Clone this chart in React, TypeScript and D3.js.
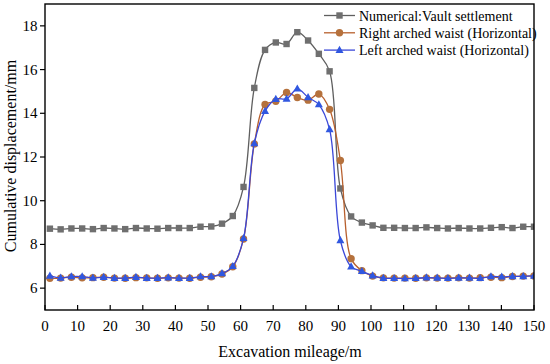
import * as d3 from 'd3';

const mileage = [
  1.5, 4.8, 8.1, 11.4, 14.7, 18.0, 21.3, 24.6, 27.9, 31.2, 34.5, 37.8, 41.1, 44.4, 47.7, 51.0,
  54.3, 57.6, 60.9, 64.2, 67.5, 70.8, 74.1, 77.4, 80.7, 84.0, 87.3, 90.6, 93.9, 97.2, 100.5,
  103.8, 107.1, 110.4, 113.7, 117.0, 120.3, 123.6, 126.9, 130.2, 133.5, 136.8, 140.1, 143.4,
  146.7, 150.0,
];

const vault = [
  8.72, 8.69, 8.73, 8.73, 8.70, 8.75, 8.73, 8.70, 8.75, 8.73, 8.72, 8.75, 8.75, 8.75, 8.81, 8.82,
  8.95, 9.30, 10.63, 15.16, 16.90, 17.24, 17.17, 17.71, 17.33, 16.72, 15.92, 10.56, 9.28, 9.00,
  8.87, 8.76, 8.76, 8.75, 8.75, 8.78, 8.75, 8.73, 8.75, 8.73, 8.73, 8.76, 8.79, 8.75, 8.81, 8.81,
];

const rightWaist = [
  6.45, 6.46, 6.50, 6.47, 6.48, 6.50, 6.46, 6.45, 6.48, 6.47, 6.45, 6.47, 6.46, 6.45, 6.50, 6.52,
  6.65, 6.98, 8.25, 12.60, 14.40, 14.55, 14.95, 14.72, 14.60, 14.88, 14.18, 11.84, 7.35, 6.80,
  6.55, 6.47, 6.46, 6.46, 6.45, 6.47, 6.46, 6.46, 6.47, 6.46, 6.48, 6.50, 6.48, 6.53, 6.55, 6.56,
];

const leftWaist = [
  6.56, 6.47, 6.53, 6.53, 6.47, 6.50, 6.46, 6.46, 6.50, 6.46, 6.46, 6.48, 6.46, 6.46, 6.53, 6.53,
  6.67, 7.00, 8.28, 12.62, 14.10, 14.65, 14.66, 15.12, 14.73, 14.40, 13.26, 8.18, 6.98, 6.77,
  6.57, 6.46, 6.45, 6.44, 6.45, 6.48, 6.47, 6.45, 6.47, 6.47, 6.45, 6.53, 6.52, 6.54, 6.54, 6.56,
];

const seriesNames = [
  'Numerical:Vault settlement',
  'Right arched waist (Horizontal)',
  'Left arched waist (Horizontal)',
];

const xTicks = [0, 10, 20, 30, 40, 50, 60, 70, 80, 90, 100, 110, 120, 130, 140, 150];
const yTicks = [6, 8, 10, 12, 14, 16, 18];

const W = 550;
const H = 364;
const M = { left: 45, right: 534, top: 4, bottom: 310 };
const FONT = '"Liberation Serif", "Times New Roman", serif';

const x = d3.scaleLinear().domain([0, 150]).range([M.left, M.right]);
const y = d3.scaleLinear().domain([5, 19]).range([M.bottom, M.top]);

type Series = { name: string; values: number[]; line: string; fill: string; shape: 'square' | 'circle' | 'triangle' };

const series: Series[] = [
  { name: seriesNames[0], values: vault, line: '#5f5f5f', fill: '#6f6f6f', shape: 'square' },
  { name: seriesNames[1], values: rightWaist, line: '#b8602e', fill: '#b5713c', shape: 'circle' },
  { name: seriesNames[2], values: leftWaist, line: '#3a47d8', fill: '#3057e0', shape: 'triangle' },
];

function Marker({ shape, cx, cy, fill }: { shape: Series['shape']; cx: number; cy: number; fill: string }) {
  if (shape === 'square') return <rect x={cx - 3.2} y={cy - 3.2} width={6.4} height={6.4} fill={fill} />;
  if (shape === 'circle') return <circle cx={cx} cy={cy} r={3.7} fill={fill} />;
  return <path d={`M${cx},${cy - 4.4}L${cx + 4},${cy + 2.8}L${cx - 4},${cy + 2.8}Z`} fill={fill} />;
}

export default function App() {
  const line = d3.line<number>()
    .x((_, i) => x(mileage[i]))
    .y(d => y(d))
    .curve(d3.curveCatmullRom.alpha(0.5));

  return (
    <svg width={W} height={H} style={{ position: 'absolute', left: 0, top: 0, background: '#fff' }} fontFamily={FONT}>
      <defs>
        <clipPath id="plot">
          <rect x={M.left} y={M.top} width={M.right - M.left} height={M.bottom - M.top} />
        </clipPath>
      </defs>

      {/* series */}
      <g clipPath="url(#plot)">
        {series.map(s => (
          <g key={s.name}>
            <path d={line(s.values) ?? ''} fill="none" stroke={s.line} strokeWidth={1.3} />
            {s.values.map((v, i) => (
              <Marker key={i} shape={s.shape} cx={x(mileage[i])} cy={y(v)} fill={s.fill} />
            ))}
          </g>
        ))}
      </g>

      {/* frame */}
      <rect x={M.left} y={M.top} width={M.right - M.left} height={M.bottom - M.top} fill="none" stroke="#000" strokeWidth={1.4} />

      {/* x axis */}
      {xTicks.map(t => (
        <g key={t}>
          <line x1={x(t)} x2={x(t)} y1={M.bottom} y2={M.bottom - 5} stroke="#000" strokeWidth={1.2} />
          <text x={x(t)} y={331} fontSize={15} textAnchor="middle">{t}</text>
        </g>
      ))}
      <text x={290} y={357} fontSize={16} textAnchor="middle">Excavation mileage/m</text>

      {/* y axis */}
      {yTicks.map(t => (
        <g key={t}>
          <line x1={M.left - 5} x2={M.left} y1={y(t)} y2={y(t)} stroke="#000" strokeWidth={1.2} />
          <text x={37.5} y={y(t) + 5} fontSize={15} textAnchor="end">{t}</text>
        </g>
      ))}
      <text transform={`translate(16,156) rotate(-90)`} fontSize={16} textAnchor="middle">Cumulative displacement/mm</text>

      {/* legend */}
      {series.map((s, i) => {
        const ly = 15.5 + i * 17.3;
        return (
          <g key={s.name}>
            <line x1={324} x2={355} y1={ly} y2={ly} stroke={s.line} strokeWidth={1.3} />
            <Marker shape={s.shape} cx={339.5} cy={ly} fill={s.fill} />
            <text x={359} y={ly + 5} fontSize={14}>{s.name}</text>
          </g>
        );
      })}
    </svg>
  );
}
